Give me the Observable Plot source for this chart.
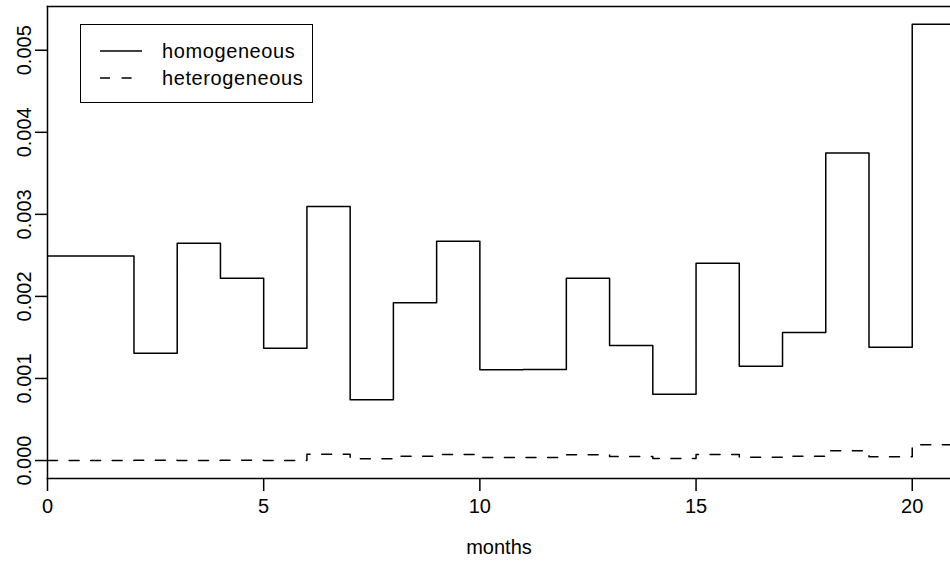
<!DOCTYPE html>
<html>
<head>
<meta charset="utf-8">
<script src="https://cdn.jsdelivr.net/npm/d3@7"></script>
<script src="https://cdn.jsdelivr.net/npm/@observablehq/plot@0.6"></script>
<style>
  body { margin: 0; background: #fff; overflow: hidden; }
  #wrap { position: relative; width: 950px; height: 564px; }
  #legend {
    position: absolute; left: 80px; top: 24px; width: 231px; height: 77px;
    border: 1.5px solid #000; background: #fff;
    font: 20px "Liberation Sans", Arial, Helvetica, sans-serif; color: #000;
  }
  #legend .row { position: absolute; left: 0; height: 26px; }
  #legend svg { position: absolute; left: 19px; }
  #legend span { position: absolute; left: 81px; white-space: nowrap; line-height: 26px; letter-spacing: 0.6px; }
</style>
</head>
<body>
<div id="wrap"></div>
<script>
// ---- data ----
const months = [0, 1, 2, 3, 4, 5, 6, 7, 8, 9, 10, 11, 12, 13, 14, 15, 16, 17, 18, 19, 20];
const homogeneous = [0.002494, 0.002494, 0.001308, 0.002648, 0.002222, 0.001369, 0.003095, 0.000740,
  0.001922, 0.002673, 0.001105, 0.001110, 0.002222, 0.001401, 0.000808, 0.002405, 0.001149, 0.001560,
  0.003749, 0.001381, 0.005317];
const heterogeneous = [0.000000, 0.000001, 0.000002, 0.000001, 0.000002, 0.000001, 0.000077, 0.000022,
  0.000052, 0.000073, 0.000037, 0.000037, 0.000069, 0.000049, 0.000024, 0.000073, 0.000041, 0.000052,
  0.000118, 0.000045, 0.000191];
const seriesNames = ["homogeneous", "heterogeneous"];
const xTicks = [0, 5, 10, 15, 20];
const yTicks = [0.000, 0.001, 0.002, 0.003, 0.004, 0.005];
const xLabel = "months";

// step data: each value holds from its month to the next month
function steps(vals) {
  const d = months.map((m, i) => ({month: m, value: vals[i]}));
  d.push({month: months[months.length - 1] + 1, value: vals[vals.length - 1]});
  return d;
}

const FONT = '"Liberation Sans", Arial, Helvetica, sans-serif';
const lw = 1.5;
const dash = "10,11.6";

const chart = Plot.plot({
  width: 950,
  height: 564,
  marginLeft: 47,
  marginRight: 0,
  marginTop: 6,
  marginBottom: 86,
  style: {fontFamily: FONT, fontSize: "20px", color: "#000", background: "#fff", overflow: "visible"},
  x: {domain: [0, 20.885]},
  y: {domain: [-0.000219, 0.005533]},
  marks: [
    Plot.frame({anchor: "top", stroke: "#000", strokeWidth: lw}),
    Plot.frame({anchor: "left", stroke: "#000", strokeWidth: lw}),
    Plot.frame({anchor: "bottom", stroke: "#000", strokeWidth: lw}),
    Plot.line(steps(homogeneous), {x: "month", y: "value", curve: "step-after", stroke: "#000", strokeWidth: lw, clip: true}),
    Plot.line(steps(heterogeneous), {x: "month", y: "value", curve: "step-after", stroke: "#000", strokeWidth: lw, strokeDasharray: dash, clip: true}),
    Plot.axisX({ticks: xTicks, tickSize: 13, tickPadding: 7, strokeWidth: lw, tickFormat: d => String(d),
      label: xLabel, labelAnchor: "center", labelArrow: "none", labelOffset: 75}),
    Plot.axisY({ticks: yTicks, tickSize: 12, tickPadding: 5, strokeWidth: lw, tickRotate: -90,
      tickFormat: d3.format(".3f"), label: null})
  ]
});

const wrap = document.getElementById("wrap");
wrap.appendChild(chart);

// legend inside plot area
const legend = document.createElement("div");
legend.id = "legend";
const rows = [{name: seriesNames[0], dash: null, top: 13}, {name: seriesNames[1], dash: dash, top: 40}];
for (const r of rows) {
  const row = document.createElement("div");
  row.className = "row";
  row.style.top = r.top + "px";
  row.style.width = "100%";
  const svg = d3.create("svg").attr("width", 44).attr("height", 26).style("top", "0px");
  svg.append("line").attr("x1", 0).attr("x2", 42).attr("y1", 13).attr("y2", 13)
    .attr("stroke", "#000").attr("stroke-width", lw).attr("stroke-dasharray", r.dash);
  row.appendChild(svg.node());
  const span = document.createElement("span");
  span.textContent = r.name;
  row.appendChild(span);
  legend.appendChild(row);
}
wrap.appendChild(legend);
</script>
</body>
</html>
